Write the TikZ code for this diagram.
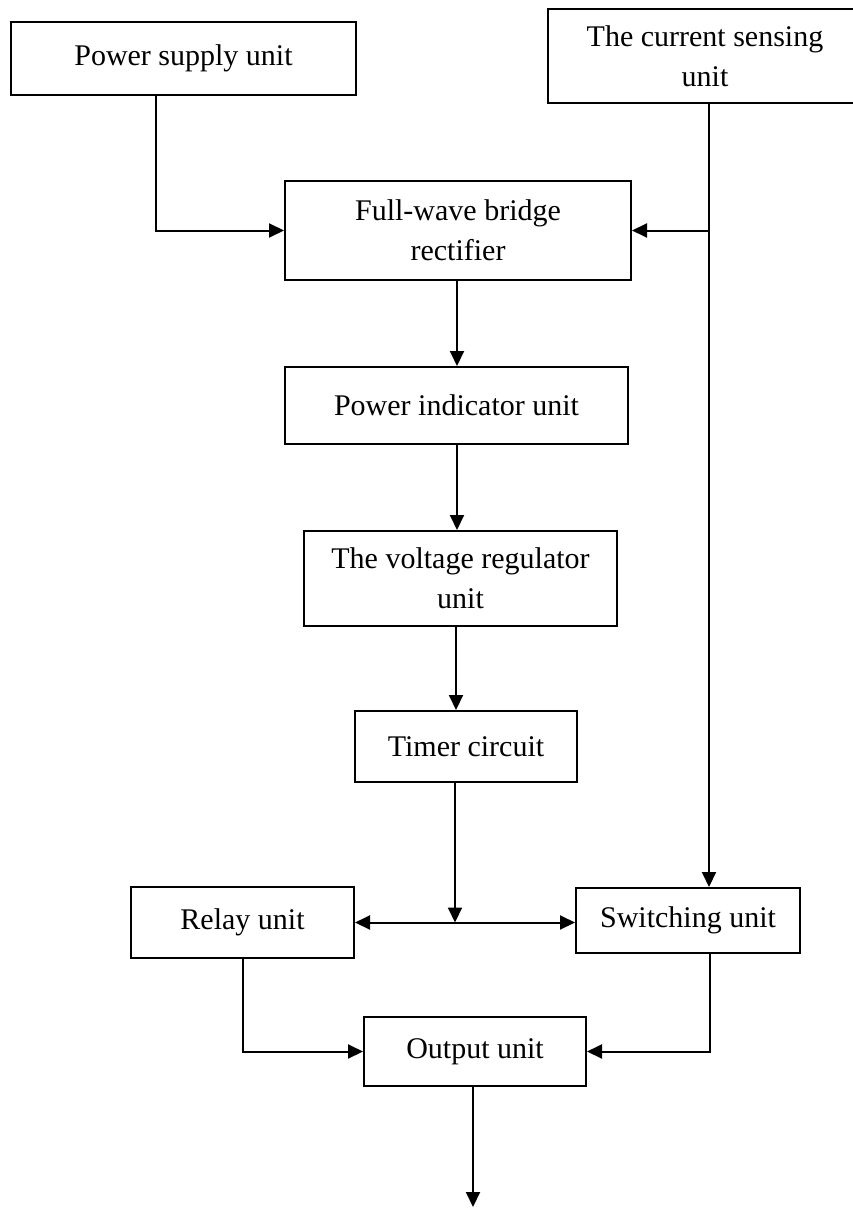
\documentclass[tikz,border=0pt]{standalone}
\usepackage{fontspec}
\setmainfont{Liberation Serif}
\usetikzlibrary{arrows.meta,positioning}

\begin{document}
\begin{tikzpicture}[x=1pt,y=-1pt,
    blk/.style={draw,line width=2pt,align=center,inner sep=0pt,
      font=\fontsize{30}{40}\selectfont},
    arr/.style={-{Triangle[length=15pt,width=14pt]},line width=2pt},
    arrb/.style={{Triangle[length=15pt,width=14pt]}-{Triangle[length=15pt,width=14pt]},line width=2pt}]
  \useasboundingbox (0,0) rectangle (853,1209);

  \node[blk,minimum width=345pt,minimum height=73pt] (psu) at (183.5,58.5) {Power supply unit};
  \node[blk,minimum width=314pt,minimum height=94pt] (csu) at (705,56) {The current sensing\\unit};
  \node[blk,minimum width=346pt,minimum height=99pt] (fwb) at (458,230.5) {Full-wave bridge\\rectifier};
  \node[blk,minimum width=343pt,minimum height=77pt] (piu) at (456.5,405.5) {Power indicator unit};
  \node[blk,minimum width=313pt,minimum height=95pt] (vru) at (460.5,578.5) {The voltage regulator\\unit};
  \node[blk,minimum width=222pt,minimum height=71pt] (tmr) at (466,746.5) {Timer circuit};
  \node[blk,minimum width=223pt,minimum height=71pt] (rly) at (242.5,922.5) {Relay unit};
  \node[blk,minimum width=224pt,minimum height=65pt] (swu) at (688,920.5) {Switching unit};
  \node[blk,minimum width=222pt,minimum height=69pt] (out) at (475,1051.5) {Output unit};

  % junctions and free ends
  \coordinate (jc) at ([xshift=4pt]csu.south |- fwb.east);
  \coordinate (jt) at ([xshift=-11pt]tmr.south |- rly.east);
  \coordinate (outend) at ([xshift=-2pt]out.south |- 0,1207);

  \draw[arr] ([xshift=-27.5pt]psu.south) |- (fwb.west);
  \draw[arr] ([xshift=4pt]csu.south) -- ([xshift=4pt]csu.south |- swu.north);
  \draw[arr] (jc) -- (fwb.east);
  \draw[arr] ([xshift=-1pt]fwb.south) -- ([xshift=-1pt]fwb.south |- piu.north);
  \draw[arr] ([xshift=0.5pt]piu.south) -- ([xshift=0.5pt]piu.south |- vru.north);
  \draw[arr] ([xshift=-4.5pt]vru.south) -- ([xshift=-4.5pt]vru.south |- tmr.north);
  \draw[arr] ([xshift=-11pt]tmr.south) -- (jt);
  \draw[arrb] (rly.east) -- (rly.east -| swu.west);
  \draw[arr] (rly.south) |- (out.west);
  \draw[arr] ([xshift=22pt]swu.south) |- (out.east);
  \draw[arr] ([xshift=-2pt]out.south) -- (outend);
\end{tikzpicture}
\end{document}
